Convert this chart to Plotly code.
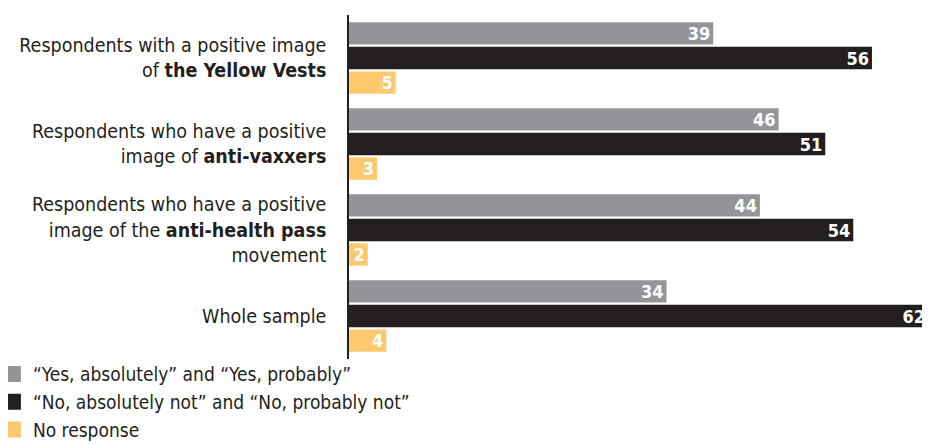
import plotly.graph_objects as go

categories = [
    "Respondents with a positive image<br>of <b>the Yellow Vests</b>",
    "Respondents who have a positive<br>image of <b>anti-vaxxers</b>",
    "Respondents who have a positive<br>image of the <b>anti-health pass</b><br>movement",
    "Whole sample",
]
series_names = [
    "\u201cYes, absolutely\u201d and \u201cYes, probably\u201d",
    "\u201cNo, absolutely not\u201d and \u201cNo, probably not\u201d",
    "No response",
]
yes_vals = [39, 46, 44, 34]
no_vals = [56, 51, 54, 62]
nr_vals = [5, 3, 2, 4]
colors = ["#939598", "#231f20", "#fdc86e"]

FONT = "DejaVu Sans Condensed, Liberation Sans Narrow, Arial Narrow, sans-serif"

fig = go.Figure()
for name, vals, col in zip(series_names, [yes_vals, no_vals, nr_vals], colors):
    fig.add_trace(go.Bar(
        y=categories, x=vals, orientation="h", name=name,
        marker=dict(color=col, line=dict(width=0)),
        text=[str(v) for v in vals], textposition="inside",
        insidetextanchor="end", textangle=0,
        textfont=dict(family=FONT, size=18, color="white", weight="bold"),
        showlegend=False,
    ))
    fig.add_trace(go.Scatter(
        x=[None], y=[None], mode="markers", name=name,
        marker=dict(symbol="square", size=16, color=col),
        showlegend=True,
    ))

# the page body has an 8px margin, so the figure is sized to fit the window
fig.update_layout(
    width=922, height=436,
    margin=dict(l=341, r=2, t=7, b=85, autoexpand=False),
    paper_bgcolor="white", plot_bgcolor="white",
    barmode="group", bargap=0.143, bargroupgap=0.09,
    uniformtext=dict(minsize=18, mode="show"),
    font=dict(family=FONT, size=19.5, color="#231f20"),
    xaxis=dict(range=[0, 62], visible=False, showgrid=False, zeroline=False),
    yaxis=dict(autorange="reversed", showgrid=False, zeroline=False,
               showline=True, linecolor="#231f20", linewidth=1.5,
               ticks="", ticklabelstandoff=17, automargin=False,
               tickfont=dict(family=FONT, size=19.5, color="#231f20")),
    legend=dict(xref="paper", yref="paper", x=-0.615, y=-0.262,
                xanchor="left", yanchor="bottom", orientation="v",
                font=dict(family=FONT, size=19, color="#231f20"),
                itemwidth=30, tracegroupgap=0,
                bgcolor="rgba(0,0,0,0)"),
)

fig.write_html("out.html")
